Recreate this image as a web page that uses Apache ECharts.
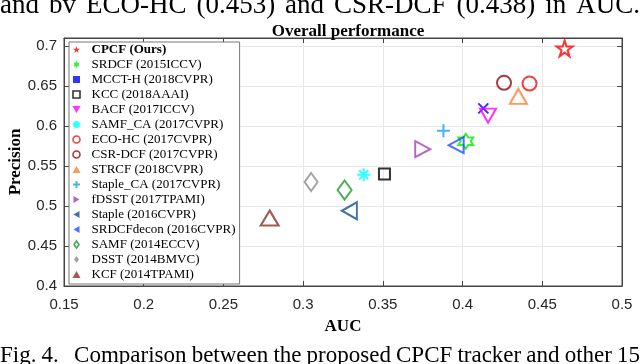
<!DOCTYPE html>
<html>
<head>
<meta charset="utf-8">
<script src="https://cdn.jsdelivr.net/npm/echarts@6/dist/echarts.min.js"></script>
<style>
  html, body { margin: 0; padding: 0; background: #fff; }
  #chart { width: 640px; height: 364px; }
</style>
</head>
<body>
<div id="chart"></div>
<script>
// tracker results
const trackers = ['CPCF (Ours)', 'SRDCF (2015ICCV)', 'MCCT-H (2018CVPR)', 'KCC (2018AAAI)', 'BACF (2017ICCV)',
  'SAMF_CA (2017CVPR)', 'ECO-HC (2017CVPR)', 'CSR-DCF (2017CVPR)', 'STRCF (2018CVPR)', 'Staple_CA (2017CVPR)',
  'fDSST (2017TPAMI)', 'Staple (2016CVPR)', 'SRDCFdecon (2016CVPR)', 'SAMF (2014ECCV)', 'DSST (2014BMVC)', 'KCF (2014TPAMI)'];
const auc = [0.464, 0.402, 0.413, 0.351, 0.416, 0.338, 0.442, 0.426, 0.435, 0.388, 0.375, 0.329, 0.396, 0.326, 0.305, 0.279];
const precision = [0.697, 0.581, 0.622, 0.540, 0.613, 0.539, 0.653, 0.654, 0.637, 0.594, 0.571, 0.494, 0.576, 0.520, 0.530, 0.485];

const xTicks = { min: 0.15, max: 0.5, step: 0.05 };
const yTicks = { min: 0.4, max: 0.71, step: 0.05 };

const topWords = ['and', 'bv', 'ECO-HC', '(0.453)', 'and', 'CSR-DCF', '(0.438)', 'in', 'AUC.'];
const bottomWords = ['Fig.', '4.', '', '', 'Comparison', 'between', 'the', 'proposed', 'CPCF', 'tracker', 'and', 'other', '15'];

// marker shapes
const P = {
  star: 'path://M0,-1L0.2245,-0.309L0.9511,-0.309L0.3633,0.118L0.5878,0.809L0,0.382L-0.5878,0.809L-0.3633,0.118L-0.9511,-0.309L-0.2245,-0.309Z',
  hex: 'path://M0,-1L0.2887,-0.5L0.866,-0.5L0.5774,0L0.866,0.5L0.2887,0.5L0,1L-0.2887,0.5L-0.866,0.5L-0.5774,0L-0.866,-0.5L-0.2887,-0.5Z',
  cross: 'path://M-1,-1L1,1M-1,1L1,-1',
  plus: 'path://M0,-1L0,1M-1,0L1,0',
  aster: 'path://M0,-1L0,1M-1,0L1,0M-0.7,-0.7L0.7,0.7M-0.7,0.7L0.7,-0.7',
  square: 'path://M0,0L1,0L1,1L0,1Z',
  up: 'path://M1,0L2,1.73L0,1.73Z',
  down: 'path://M0,0L2,0L1,1.73Z',
  right: 'path://M0,0L1.73,1L0,2Z',
  left: 'path://M1.73,0L0,1L1.73,2Z',
  diamond: 'path://M1,0L2,1.4L1,2.8L0,1.4Z'
};

const styles = [
  { c: '#ff0000', s: P.star, size: 16, leg: P.star },
  { c: '#00ee00', s: P.hex, size: 15, leg: P.hex },
  { c: '#0000ff', s: P.cross, size: 10, leg: P.square },
  { c: '#000000', s: P.square, size: 11, leg: P.square, ring: true },
  { c: '#ff00ff', s: P.down, size: [16, 14], leg: P.down },
  { c: '#00ffff', s: P.aster, size: 13, leg: 'circle' },
  { c: '#ee1111', s: 'circle', size: 14, leg: 'circle', ring: true },
  { c: '#8b0a14', s: 'circle', size: 14, leg: 'circle', ring: true },
  { c: '#ff7f2a', s: P.up, size: [17, 15], leg: P.up },
  { c: '#19a0ee', s: P.plus, size: 13, leg: P.plus },
  { c: '#a140b5', s: P.right, size: [15, 16], leg: P.right },
  { c: '#154f88', s: P.left, size: [15, 17], leg: P.left },
  { c: '#1f4dff', s: P.left, size: [15, 16], leg: P.left },
  { c: '#1c9a2c', s: P.diamond, size: [14, 19], leg: P.diamond, ring: true },
  { c: '#8c8c8c', s: P.diamond, size: [13, 18], leg: P.diamond },
  { c: '#8b3222', s: P.up, size: [18, 15], leg: P.up }
];

const series = trackers.map((name, i) => ({
  name: name,
  type: 'scatter',
  data: [[auc[i], precision[i]]],
  symbol: styles[i].s,
  symbolSize: styles[i].size,
  silent: true,
  z: i === 0 ? 5 : 3,
  itemStyle: {
    color: 'rgba(0,0,0,0)',
    borderColor: styles[i].c,
    borderWidth: 2
  },
  emphasis: { disabled: true }
}));

const legendData = trackers.map((name, i) => {
  const st = styles[i];
  const item = {
    name: name,
    icon: st.leg,
    itemStyle: st.ring
      ? { color: '#fff', borderColor: st.c, borderWidth: 1.6 }
      : (st.leg === P.plus
        ? { color: 'rgba(0,0,0,0)', borderColor: st.c, borderWidth: 2 }
        : { color: st.c, borderWidth: 0 })
  };
  if (i === 0) item.textStyle = { fontWeight: 'bold' };
  return item;
});

function isTick(v, step) {
  return Math.abs(v / step - Math.round(v / step)) < 1e-6;
}

// spread words across the page width like the justified paper text
function justify(words, fontSize, y) {
  const ctx = document.createElement('canvas').getContext('2d');
  ctx.font = fontSize + 'px "Liberation Serif"';
  const widths = words.map(w => ctx.measureText(w).width);
  const sum = widths.reduce((a, b) => a + b, 0);
  const gap = (640 - sum) / (words.length - 1);
  let x = 0;
  const out = [];
  words.forEach((w, i) => {
    if (w) {
      out.push({
        type: 'text', x: x, y: y, silent: true,
        style: { text: w, font: fontSize + 'px "Liberation Serif"', fill: '#000', verticalAlign: 'middle' }
      });
    }
    x += widths[i] + gap;
  });
  return out;
}

const chart = echarts.init(document.getElementById('chart'));

const labelFont = { fontFamily: 'Liberation Sans', fontSize: 15, color: '#262626' };

chart.setOption({
  animation: false,
  title: {
    text: 'Overall performance',
    left: 343, top: 18,
    textAlign: 'center',
    textStyle: { fontFamily: 'Liberation Serif', fontWeight: 'bold', fontSize: 17, color: '#000' }
  },
  grid: {
    left: 64, right: 18, top: 38, bottom: 78,
    containLabel: false, outerBoundsMode: 'none',
    show: true, borderColor: '#444', borderWidth: 1
  },
  legend: {
    orient: 'vertical',
    left: 69, top: 42,
    padding: [1, 4, 3, 3],
    itemWidth: 20, itemHeight: 7, itemGap: 2,
    backgroundColor: '#fff',
    borderColor: '#777', borderWidth: 1,
    borderRadius: 0,
    selectedMode: false,
    textStyle: { fontFamily: 'Liberation Serif', fontSize: 13, lineHeight: 13, color: '#000' },
    data: legendData
  },
  xAxis: [{
    type: 'value', min: xTicks.min, max: xTicks.max, interval: xTicks.step,
    name: 'AUC', nameLocation: 'middle', nameGap: 32, nameMoveOverlap: false,
    nameTextStyle: { fontFamily: 'Liberation Serif', fontWeight: 'bold', fontSize: 17, color: '#000' },
    axisLine: { lineStyle: { color: '#444' } },
    axisTick: { inside: true, length: 5, lineStyle: { color: '#444' } },
    axisLabel: Object.assign({ margin: 11 }, labelFont),
    splitLine: { lineStyle: { color: '#e8e8e8' } }
  }, {
    type: 'value', position: 'top', min: xTicks.min, max: xTicks.max, interval: xTicks.step,
    axisLine: { lineStyle: { color: '#444' } },
    axisTick: { inside: true, length: 5, lineStyle: { color: '#444' } },
    axisLabel: { show: false },
    splitLine: { show: false }
  }],
  yAxis: [{
    type: 'value', min: yTicks.min, max: yTicks.max, interval: yTicks.step,
    name: 'Precision', nameLocation: 'middle', nameGap: 40, nameMoveOverlap: false,
    nameTextStyle: { fontFamily: 'Liberation Serif', fontWeight: 'bold', fontSize: 17, color: '#000' },
    axisLine: { show: true, lineStyle: { color: '#444' } },
    axisTick: { show: true, inside: true, length: 5, lineStyle: { color: '#444' } },
    axisLabel: Object.assign({
      margin: 7,
      formatter: v => isTick(v, yTicks.step) ? String(+v.toFixed(2)) : ''
    }, labelFont),
    splitLine: { lineStyle: { color: '#e8e8e8' } }
  }, {
    type: 'value', position: 'right', min: yTicks.min, max: yTicks.max, interval: yTicks.step,
    axisLine: { show: true, lineStyle: { color: '#444' } },
    axisTick: { show: true, inside: true, length: 5, lineStyle: { color: '#444' } },
    axisLabel: { show: false },
    splitLine: { show: false }
  }],
  graphic: justify(topWords, 27, 6).concat(justify(bottomWords, 23, 356)),
  series: series
});
</script>
</body>
</html>
